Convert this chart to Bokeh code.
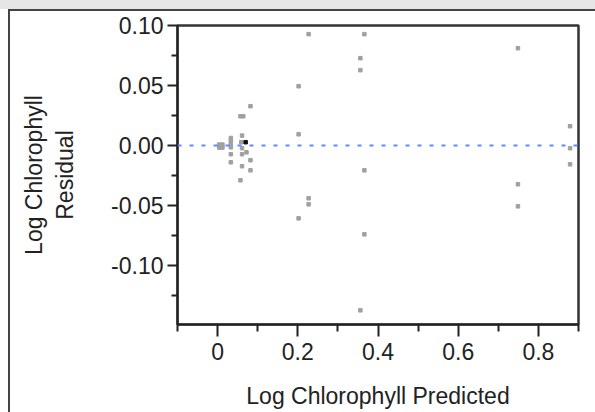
from bokeh.plotting import figure
from bokeh.models import (Range1d, FixedTicker, PrintfTickFormatter, Span,
                          ColumnDataSource)
from bokeh.embed import file_html
from bokeh.resources import INLINE

# ---- data ----
pred = [0.227, 0.366, 0.356, 0.356, 0.202, 0.082, 0.057, 0.064, 0.202, 0.061,
        0.033, 0.033, 0.033, 0.059, 0.004, 0.012, 0.004, 0.012,
        0.033, 0.061, 0.072, 0.061, 0.033, 0.082, 0.033, 0.061, 0.082, 0.057,
        0.366, 0.227, 0.227, 0.202, 0.366, 0.356,
        0.749, 0.879, 0.879, 0.879, 0.749, 0.749]
resid = [0.0928, 0.0928, 0.0728, 0.0628, 0.0494, 0.0328, 0.0244, 0.0244, 0.0094, 0.0083,
         0.0063, 0.0038, 0.0013, 0.0028, 0.0008, 0.0008, -0.0017, -0.0017,
         -0.0014, -0.0022, -0.0056, -0.0072, -0.0072, -0.0122, -0.0139, -0.0172, -0.0206, -0.0289,
         -0.0206, -0.0439, -0.0489, -0.0606, -0.0739, -0.1372,
         0.0811, 0.0161, -0.0022, -0.0156, -0.0322, -0.0506]
hi_pred = [0.070]
hi_resid = [0.0028]

x_ticks = [0, 0.2, 0.4, 0.6, 0.8]
y_ticks = [-0.10, -0.05, 0.0, 0.05, 0.10]
x_title = "Log Chlorophyll Predicted"
y_title = "Log Chlorophyll\nResidual"

FONT = "Liberation Sans"

p = figure(width=595, height=412, output_backend="svg", toolbar_location=None,
           x_range=Range1d(-0.1, 0.9), y_range=Range1d(-0.149, 0.10))
p.min_border_left = 177
p.min_border_right = 17
p.min_border_top = 25
p.min_border_bottom = 88
p.background_fill_color = "white"
p.border_fill_alpha = 0
p.outline_line_color = "#333333"
p.outline_line_width = 2.5
p.grid.visible = False

# window chrome behind the transparent canvas border (grey strip, frame lines)
p.styles = {
    "background": ("linear-gradient(#e6e6e6,#e6e6e6) 0 0/100% 9px no-repeat, "
                   "linear-gradient(#444,#444) 8px 9px/100% 2px no-repeat, "
                   "linear-gradient(#444,#444) 8px 9px/2px 100% no-repeat, white")
}

for ax in (p.xaxis[0], p.yaxis[0]):
    ax.axis_line_color = "#222222"
    ax.axis_line_width = 2
    ax.major_tick_line_color = "#222222"
    ax.major_tick_line_width = 2
    ax.minor_tick_line_color = "#222222"
    ax.minor_tick_line_width = 2
    ax.major_tick_in = 0
    ax.minor_tick_in = 0
    ax.major_label_text_font = FONT
    ax.major_label_text_font_size = "23px"
    ax.major_label_text_color = "#222222"
    ax.axis_label_text_font = FONT
    ax.axis_label_text_font_size = "23px"
    ax.axis_label_text_font_style = "normal"
    ax.axis_label_text_color = "#222222"

p.xaxis.ticker = FixedTicker(ticks=x_ticks, minor_ticks=[-0.1, 0.1, 0.3, 0.5, 0.7, 0.9])
p.yaxis.ticker = FixedTicker(ticks=y_ticks, minor_ticks=[-0.125, -0.075, -0.025, 0.025, 0.075])
p.yaxis.formatter = PrintfTickFormatter(format="%.2f")
p.xaxis.major_label_overrides = {0: "0", 0.2: "0.2", 0.4: "0.4", 0.6: "0.6", 0.8: "0.8"}
p.xaxis.major_tick_out = 12
p.xaxis.minor_tick_out = 7
p.yaxis.major_tick_out = 10
p.yaxis.minor_tick_out = 6
p.xaxis.major_label_standoff = 6
p.yaxis.major_label_standoff = 4
p.xaxis.axis_label = x_title
p.yaxis.axis_label = y_title
p.xaxis.axis_label_standoff = 20
p.yaxis.axis_label_standoff = 30

# zero reference line
p.add_layout(Span(location=0, dimension="width", line_color="#5a8cff",
                  line_width=2, line_dash="4 8"))

src = ColumnDataSource(dict(x=pred, y=resid))
p.scatter("x", "y", source=src, marker="square", size=3.5,
          fill_color="#a0a0a0", line_color="#a0a0a0")
p.scatter(hi_pred, hi_resid, marker="square", size=3.5,
          fill_color="#111111", line_color="#111111")

open("out.html", "w").write(file_html(p, INLINE))
